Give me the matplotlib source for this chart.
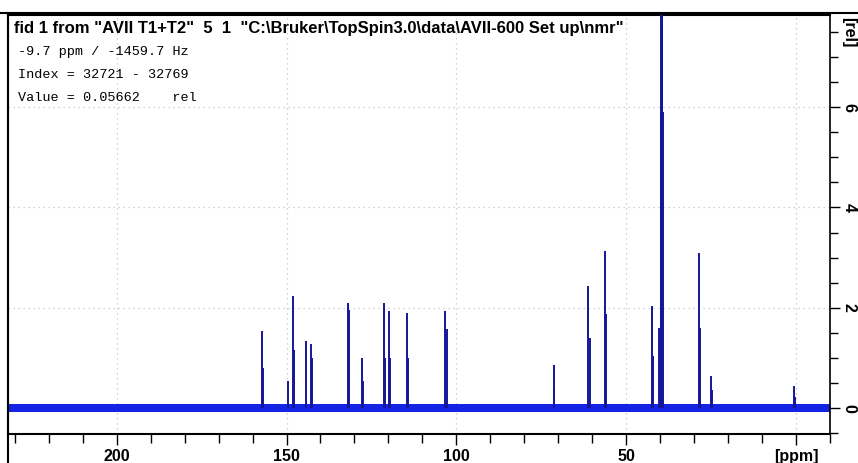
import matplotlib.pyplot as plt
from matplotlib.lines import Line2D
from matplotlib.ticker import MultipleLocator

# peak positions (ppm) and heights (rel)
peak_ppm = [157.3, 157.0, 149.7, 148.1, 147.8, 144.4, 142.9, 142.6,
            131.9, 131.6, 127.7, 127.4, 121.4, 121.1, 119.7, 119.4,
            114.6, 114.3, 103.2, 102.9, 71.4, 71.2, 61.1, 60.8,
            56.3, 56.0, 42.5, 42.2, 40.3, 39.80, 39.66, 39.52,
            39.38, 39.24, 28.5, 28.2, 25.1, 24.8, 0.6, 0.4]
peak_height = [1.53, 0.79, 0.53, 2.24, 1.16, 1.33, 1.27, 1.00,
               2.09, 1.96, 1.00, 0.53, 2.10, 1.00, 1.94, 1.00,
               1.89, 1.00, 1.94, 1.58, 0.86, 0.42, 2.43, 1.40,
               3.13, 1.88, 2.03, 1.04, 1.60, 5.9, 9.0, 12.0,
               9.0, 5.9, 3.09, 1.60, 0.64, 0.35, 0.43, 0.22]
noise_level = 0.075

x_ticks = [200, 150, 100, 50, 0]
x_tick_labels = ['200', '150', '100', '50', '[ppm]']
y_ticks = [0, 2, 4, 6]

title = 'fid 1 from "AVII T1+T2"  5  1  "C:\\Bruker\\TopSpin3.0\\data\\AVII-600 Set up\\nmr"'
info_lines = ['-9.7 ppm / -1459.7 Hz', 'Index = 32721 - 32769', 'Value = 0.05662    rel']

W, H = 858, 463
fig = plt.figure(figsize=(W / 100, H / 100), dpi=100)
ax = fig.add_axes([8 / W, 1 - 434 / H, (830 - 8) / W, (434 - 15) / H])

peak_col = '#15159a'
base_col = '#1424e4'

xmin, xmax = 232, -10
ax.fill_between([xmin, xmax], [-noise_level, -noise_level], [noise_level, noise_level],
                color=base_col, lw=0, zorder=2)
ax.vlines(peak_ppm, 0, peak_height, color=peak_col, lw=1.4, zorder=3)

ax.set_xlim(xmin, xmax)
ax.set_ylim(-0.52, 7.84)

lbl_font = dict(fontweight='bold', fontsize=11.5, family='Liberation Sans')

ax.set_xticks(x_ticks)
ax.set_xticklabels(x_tick_labels, **lbl_font)
ax.xaxis.set_minor_locator(MultipleLocator(10))
ax.tick_params(axis='x', which='major', direction='out', length=8, width=1, pad=3)
ax.tick_params(axis='x', which='minor', direction='out', length=6.5, width=1)

ax.yaxis.tick_right()
ax.set_yticks(y_ticks)
ax.set_yticklabels([str(v) for v in y_ticks], rotation=-90, va='center', **lbl_font)
ax.yaxis.set_minor_locator(MultipleLocator(0.5))
ax.tick_params(axis='y', which='major', direction='out', length=7.2, width=1, pad=1)
ax.tick_params(axis='y', which='minor', direction='out', length=5.8, width=1)

ax.grid(True, which='major', color='#c4c4c4', linestyle=(0, (1, 3)), lw=0.9)
ax.set_axisbelow(True)

for s in ax.spines.values():
    s.set_color('black')
ax.spines['bottom'].set_linewidth(1.5)
ax.spines['right'].set_linewidth(1.2)
ax.spines['left'].set_linewidth(1.5)
ax.spines['top'].set_linewidth(1.5)

fig.text(849 / W, 1 - 32 / H, '[rel]', rotation=-90, ha='center', va='center', **lbl_font)

fig.text(14 / W, 1 - 28 / H, title, fontweight='bold', fontsize=12,
         family='Liberation Sans', ha='left', va='center')
for i, line in enumerate(info_lines):
    fig.text(18 / W, 1 - (52 + 23 * i) / H, line, fontsize=9.7,
             family='Liberation Mono', ha='left', va='center')

# window border
fig.add_artist(Line2D([0, 1], [1 - 13 / H, 1 - 13 / H], color='black', lw=1.5))
fig.add_artist(Line2D([8 / W, 8 / W], [0, 1 - 13 / H], color='black', lw=1.5))

fig.savefig('out.png', dpi=100)
